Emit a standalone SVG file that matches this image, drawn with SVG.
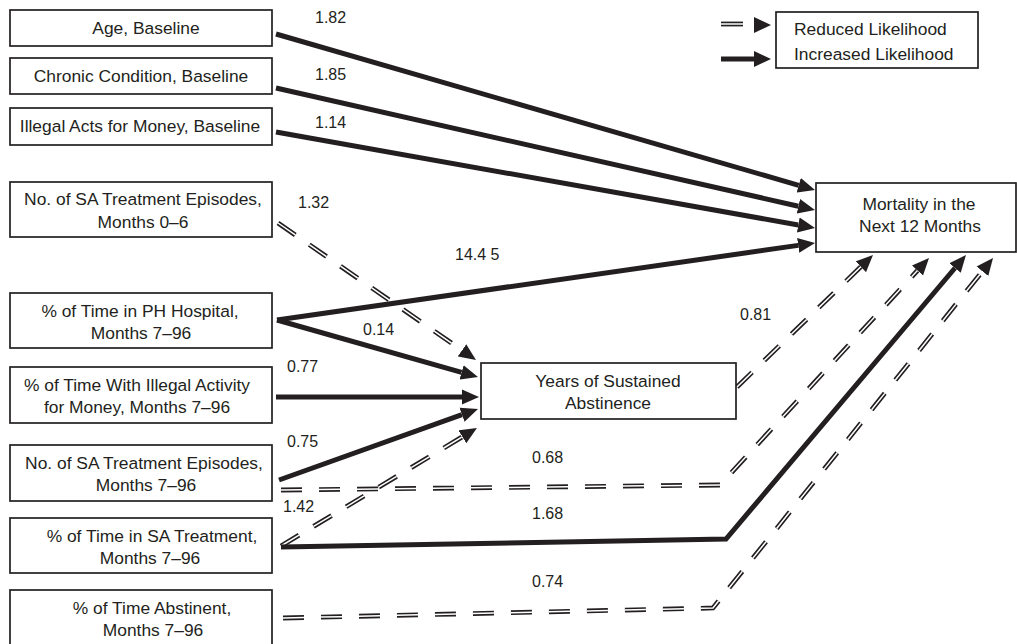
<svg xmlns="http://www.w3.org/2000/svg" width="1017" height="644" viewBox="0 0 1017 644">
<defs>
<style>
.box{fill:#fff;stroke:#231f20;stroke-width:1.7}
.t{font-family:"Liberation Sans",Arial,sans-serif;font-size:17.4px;fill:#231f20;text-anchor:middle}
.lbl{font-family:"Liberation Sans",Arial,sans-serif;font-size:16px;fill:#231f20}
.solid{fill:none;stroke:#231f20;stroke-width:5;stroke-linejoin:miter}
.dashB{fill:none;stroke:#231f20;stroke-width:4.8;stroke-dasharray:21 17}
.dashW{fill:none;stroke:#fff;stroke-width:1.5;stroke-dasharray:21 17}
</style>
<marker id="ah" markerUnits="userSpaceOnUse" markerWidth="18" markerHeight="16" viewBox="0 -8 18 16" refX="0" refY="0" orient="auto"><path d="M0,-7.5 L17,0 L0,7.5 z" fill="#231f20"/></marker>
</defs>
<rect width="1017" height="644" fill="#fff"/>

<g id="legend">
<rect class="box" x="776" y="12" width="202" height="56"/>
<text class="t" x="794" y="35" style="text-anchor:start">Reduced Likelihood</text>
<text class="t" x="794" y="60" style="text-anchor:start">Increased Likelihood</text>
<path d="M721,24 L743,24" fill="none" stroke="#231f20" stroke-width="4.8"/>
<path d="M721,24 L743,24" fill="none" stroke="#fff" stroke-width="1.5"/>
<path d="M754,17 L771,25 L754,33 z" fill="#231f20"/>
<path d="M721,59 L755,59" class="solid"/>
<path d="M754,51 L771,59 L754,67 z" fill="#231f20"/>
</g>

<g id="connectors">
<g id="c132"><path class="dashB" d="M278,223 L462,350.3" marker-end="url(#ah)"/><path class="dashW" d="M278,223 L462,350.3"/></g>
<g id="c142"><path class="dashB" d="M281,546 L462.4,436.8" marker-end="url(#ah)"/><path class="dashW" d="M281,546 L462.4,436.8"/></g>
<g id="c081"><path class="dashB" d="M737,387 L860.8,266.8" marker-end="url(#ah)"/><path class="dashW" d="M737,387 L860.8,266.8"/></g>
<g id="c068"><path class="dashB" d="M281,490 L720,485 L917.5,270.5" marker-end="url(#ah)"/><path class="dashW" d="M281,490 L720,485 L917.5,270.5"/></g>
<g id="c074"><path class="dashB" d="M283,618 L713,608 L982.4,271.3" marker-end="url(#ah)"/><path class="dashW" d="M283,618 L713,608 L982.4,271.3"/></g>
<path class="solid" d="M276,34 L798.7,185.3" marker-end="url(#ah)"/>
<path class="solid" d="M276,88 L798.4,206.2" marker-end="url(#ah)"/>
<path class="solid" d="M276,132 L798.3,225" marker-end="url(#ah)"/>
<path class="solid" d="M277,320 L798.2,245.4" marker-end="url(#ah)"/>
<path class="solid" d="M277,320 L461.6,372.4" marker-end="url(#ah)"/>
<path class="solid" d="M276,397 L462,397" marker-end="url(#ah)"/>
<path class="solid" d="M279,480 L462,414.7" marker-end="url(#ah)"/>
<path class="solid" d="M281,547 L726,539 L955,268" marker-end="url(#ah)"/>
</g>

<g id="labels">
<text class="lbl" x="315" y="23">1.82</text>
<text class="lbl" x="315" y="80">1.85</text>
<text class="lbl" x="315" y="128">1.14</text>
<text class="lbl" x="298" y="208">1.32</text>
<text class="lbl" x="455" y="260">14.4 5</text>
<text class="lbl" x="363" y="335">0.14</text>
<text class="lbl" x="287" y="372">0.77</text>
<text class="lbl" x="287" y="447">0.75</text>
<text class="lbl" x="283" y="512">1.42</text>
<text class="lbl" x="532" y="463">0.68</text>
<text class="lbl" x="532" y="519">1.68</text>
<text class="lbl" x="532" y="587">0.74</text>
<text class="lbl" x="740" y="320">0.81</text>
</g>

<g id="n-age"><rect class="box" x="10" y="10" width="262" height="36"/><text class="t" x="146" y="34">Age, Baseline</text></g>
<g id="n-chronic"><rect class="box" x="10" y="58" width="262" height="36"/><text class="t" x="141" y="82">Chronic Condition, Baseline</text></g>
<g id="n-illegal-base"><rect class="box" x="10" y="108" width="262" height="37"/><text class="t" x="140" y="132">Illegal Acts for Money, Baseline</text></g>
<g id="n-sa06"><rect class="box" x="10" y="182" width="262" height="55"/><text class="t" x="143" y="205">No. of SA Treatment Episodes,</text><text class="t" x="143" y="228">Months 0–6</text></g>
<g id="n-ph"><rect class="box" x="10" y="293" width="262" height="55"/><text class="t" x="140" y="317">% of Time in PH Hospital,</text><text class="t" x="141" y="339">Months 7–96</text></g>
<g id="n-illegal-act"><rect class="box" x="10" y="367" width="262" height="56"/><text class="t" x="137" y="391">% of Time With Illegal Activity</text><text class="t" x="137" y="413">for Money, Months 7–96</text></g>
<g id="n-sa796"><rect class="box" x="10" y="445" width="262" height="56"/><text class="t" x="144" y="469">No. of SA Treatment Episodes,</text><text class="t" x="146" y="491">Months 7–96</text></g>
<g id="n-satime"><rect class="box" x="10" y="518" width="262" height="55"/><text class="t" x="152" y="542">% of Time in SA Treatment,</text><text class="t" x="150" y="564">Months 7–96</text></g>
<g id="n-abst"><rect class="box" x="10" y="590" width="262" height="58"/><text class="t" x="152" y="614">% of Time Abstinent,</text><text class="t" x="153" y="636">Months 7–96</text></g>
<g id="n-years"><rect class="box" x="481" y="363" width="255" height="56"/><text class="t" x="608" y="387">Years of Sustained</text><text class="t" x="608" y="409">Abstinence</text></g>
<g id="n-mortality"><rect class="box" x="816" y="183" width="200" height="69"/><text class="t" x="919" y="210">Mortality in the</text><text class="t" x="920" y="232">Next 12 Months</text></g>
</svg>
